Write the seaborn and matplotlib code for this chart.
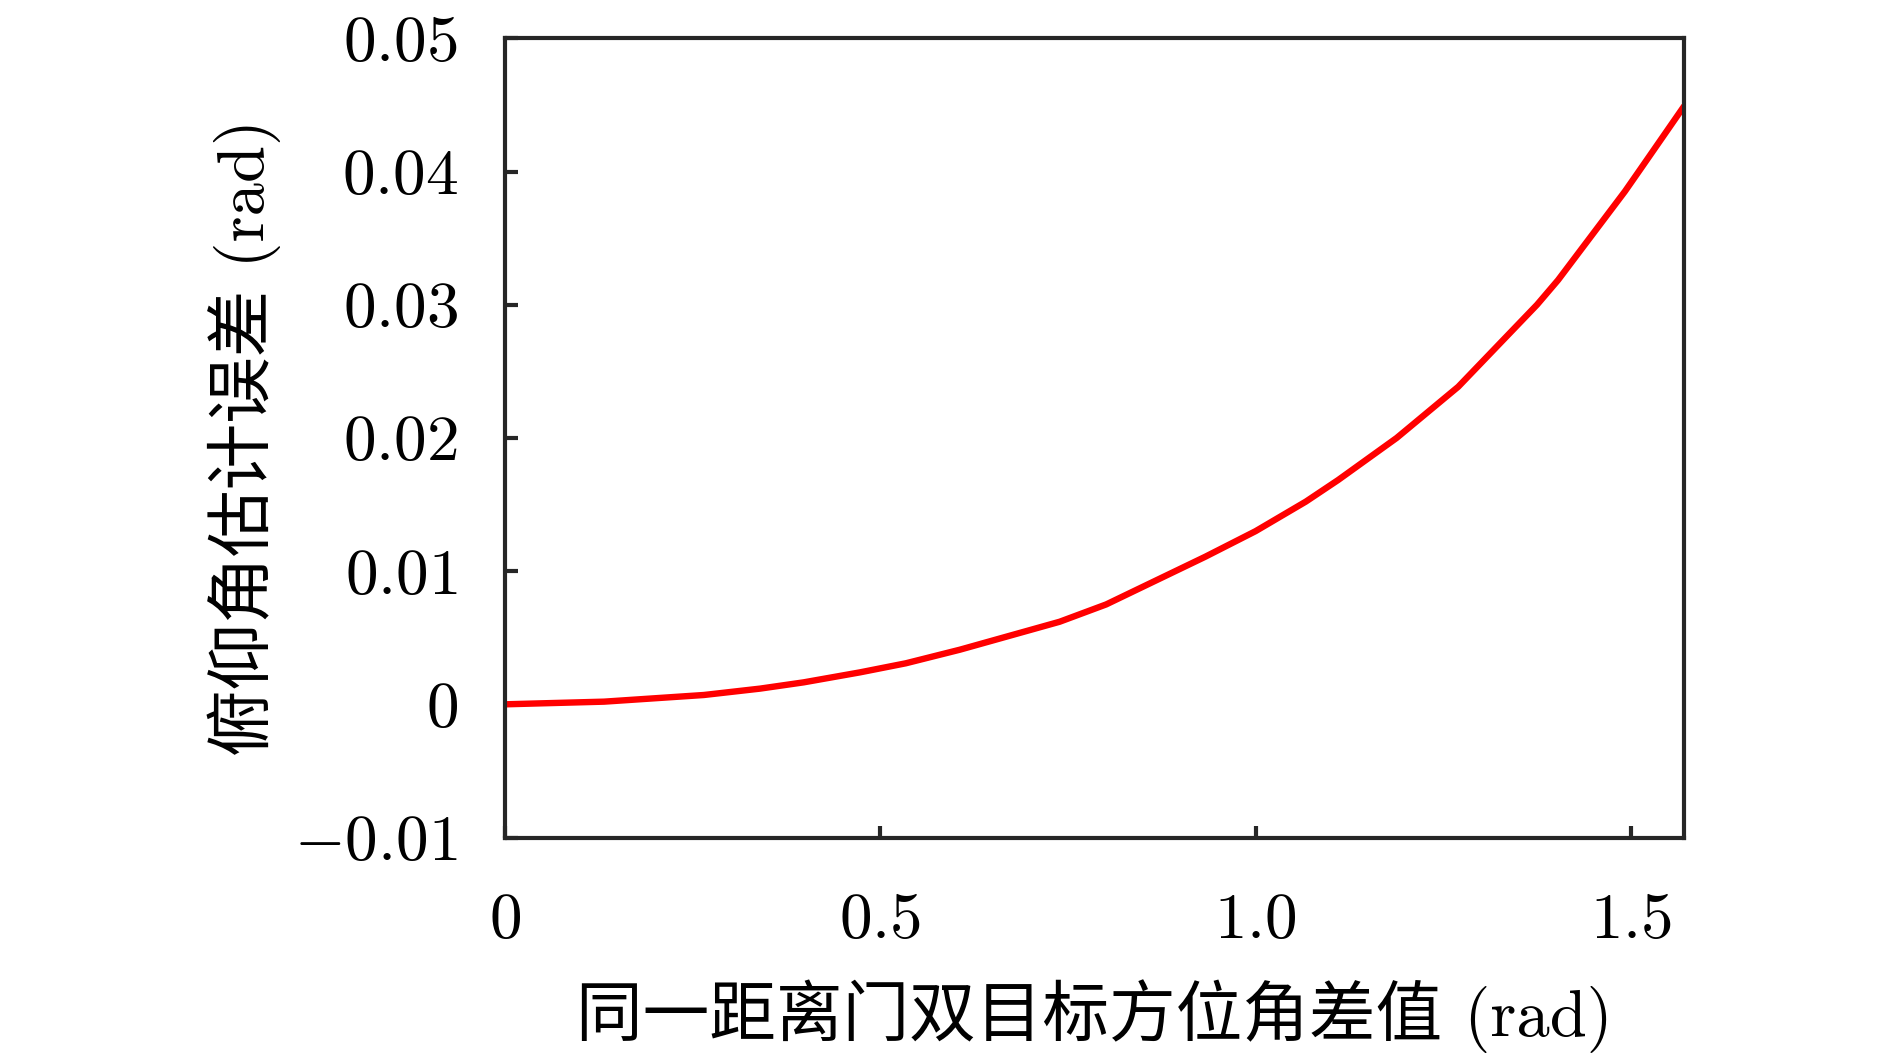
import matplotlib
matplotlib.use("Agg")
import matplotlib.pyplot as plt
import seaborn as sns
import numpy as np
import pandas as pd

sns.set_theme(style="ticks")
plt.rcParams['font.family'] = ['cmr10', 'Noto Sans CJK SC', 'DejaVu Sans']
plt.rcParams['mathtext.fontset'] = 'cm'

# 曲线数据
az_diff = [0.0, 0.132, 0.265, 0.340, 0.398, 0.473, 0.534, 0.606, 0.739, 0.801,
           0.933, 1.000, 1.067, 1.110, 1.188, 1.270, 1.375, 1.403, 1.492, 1.513, 1.5708]
elev_err = [0.0, 0.0002, 0.0007, 0.00118, 0.00165, 0.0024, 0.00308, 0.0041, 0.0062, 0.0075,
            0.01108, 0.0130, 0.01522, 0.01684, 0.0200, 0.02384, 0.0300, 0.03185, 0.0385, 0.0402, 0.0449]

x_ticks = [0, 0.5, 1.0, 1.5]
x_tick_labels = ['0', '0.5', '1.0', '1.5']
y_ticks = [-0.01, 0, 0.01, 0.02, 0.03, 0.04, 0.05]
y_tick_labels = ['−0.01', '0', '0.01', '0.02', '0.03', '0.04', '0.05']

df = pd.DataFrame({'az': az_diff, 'err': elev_err})

fig = plt.figure(figsize=(18.9, 10.56), dpi=100)
ax = fig.add_axes([0.2672, 0.2069, 0.6238, 0.7568])

sns.lineplot(data=df, x='az', y='err', color='#ff0000', linewidth=4.6, ax=ax)

ax.set_xlim(0, np.pi / 2)
ax.set_ylim(-0.01, 0.05)
ax.set_xticks(x_ticks)
ax.set_xticklabels(['$' + t + '$' for t in x_tick_labels])
ax.set_yticks(y_ticks)
ax.set_yticklabels(['$' + t.replace('−', '-') + '$' for t in y_tick_labels])

ax.tick_params(axis='both', direction='in', length=9, width=3.0, color='#262626',
               labelsize=47, labelcolor='black', top=False, right=False)
ax.tick_params(axis='y', pad=34)
ax.tick_params(axis='x', pad=40)

for s in ax.spines.values():
    s.set_visible(True)
    s.set_linewidth(3.0)
    s.set_color('#262626')

ax.set_xlabel('同一距离门双目标方位角差值 (rad)', fontsize=48, color='black')
ax.set_ylabel('俯仰角估计误差 (rad)', fontsize=48, color='black')
ax.xaxis.set_label_coords(0.5, -0.2233)
ax.yaxis.set_label_coords(-0.2208, 0.5)
ax.xaxis.label.set_va('center')
ax.yaxis.label.set_va('center')

fig.savefig('out.png', dpi=100, facecolor='white')
